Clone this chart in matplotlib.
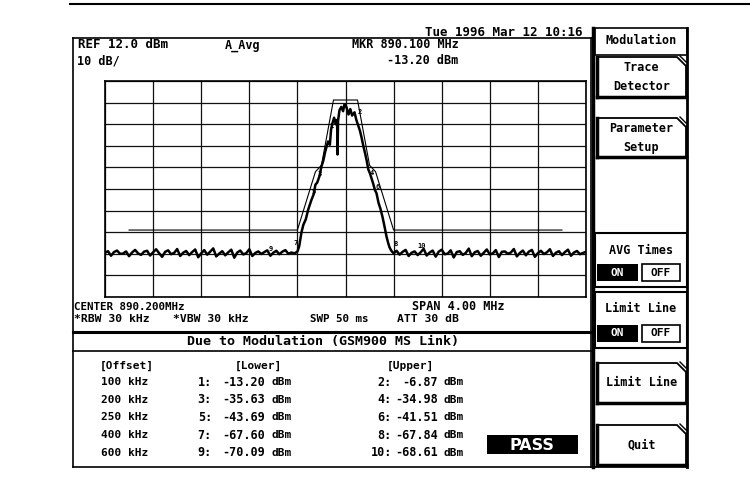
import numpy as np
import matplotlib
matplotlib.use('Agg')
import matplotlib.pyplot as plt
from matplotlib.patches import Rectangle, Polygon

plt.rcParams['font.family'] = ['DejaVu Sans Mono']
plt.rcParams['font.weight'] = 'bold'

# ---- data ----
center_mhz = 890.2
span_mhz = 4.0
ref_dbm = 12.0
db_per_div = 10.0

# signal part of the trace (offset MHz, level dBm)
sig_off = [-0.400, -0.385, -0.366, -0.350, -0.330, -0.310, -0.283, -0.265, -0.250, -0.235,
           -0.216, -0.200, -0.185, -0.170, -0.158, -0.145, -0.130, -0.120, -0.108, -0.095,
           -0.080, -0.070, -0.066, -0.062, -0.050, -0.035, -0.020, -0.010, 0.000, 0.010,
           0.025, 0.040, 0.055, 0.075, 0.090, 0.105, 0.120, 0.133, 0.150, 0.163,
           0.175, 0.190, 0.205, 0.216, 0.230, 0.245, 0.258, 0.275, 0.290, 0.308,
           0.325, 0.341, 0.355, 0.366, 0.380]
sig_db = [-67.0, -64.5, -58.0, -54.5, -52.0, -47.5, -43.0, -40.5, -36.0, -35.0,
          -32.0, -27.5, -25.0, -21.0, -18.5, -16.0, -17.5, -10.5, -7.5, -5.0,
          -8.0, -6.0, -22.0, -6.5, -1.5, 0.0, -2.0, 1.0, 1.0, -0.5,
          -3.5, -1.0, -4.0, -2.5, -6.0, -8.5, -11.0, -14.0, -18.5, -21.5,
          -24.5, -29.0, -31.0, -33.0, -35.5, -38.5, -40.0, -44.5, -47.0, -51.0,
          -55.5, -60.0, -63.0, -65.0, -66.5]

# noise floor left of the carrier (-2.0 .. -0.425 MHz, 0.025 MHz steps)
floor_left_db = [-67.5, -66.8, -68.9, -67.2, -66.5, -68.0, -67.9, -66.9, -69.1, -67.4,
                 -66.2, -67.8, -68.5, -67.0, -66.6, -68.8, -67.3, -65.9, -67.7, -69.4,
                 -67.1, -66.4, -68.2, -67.6, -65.8, -69.0, -67.5, -66.7, -68.6, -67.2,
                 -66.0, -69.6, -67.8, -66.3, -68.4, -67.0, -65.5, -69.2, -67.9, -66.8,
                 -68.7, -67.3, -66.1, -69.8, -67.4, -66.5, -68.3, -67.7, -65.9, -69.0,
                 -67.6, -66.9, -68.1, -67.2, -66.4, -68.9, -67.5, -66.6, -68.2, -67.0,
                 -66.3, -68.0, -67.4, -67.8]
# noise floor right of the carrier (0.400 .. 2.0 MHz, 0.025 MHz steps)
floor_right_db = [-67.8, -66.6, -68.4, -67.1, -66.2, -69.0, -67.5, -66.9, -68.6, -67.3,
                  -65.7, -68.8, -67.4, -66.5, -69.3, -67.0, -66.1, -68.2, -67.9, -66.4,
                  -69.7, -67.2, -66.8, -68.5, -67.6, -65.6, -69.1, -67.3, -66.7, -68.9,
                  -67.5, -66.0, -68.3, -67.8, -66.3, -69.5, -67.1, -66.9, -68.0, -67.4,
                  -65.8, -69.2, -67.6, -66.5, -68.7, -67.0, -66.2, -69.4, -67.7, -66.6,
                  -68.1, -67.3, -65.9, -69.0, -67.5, -66.8, -68.6, -67.2, -66.1, -68.9,
                  -67.4, -66.7, -68.2, -67.6, -67.1]

# limit mask
mask_off = [-1.8, -0.4, -0.25, -0.2, -0.1, 0.1, 0.2, 0.25, 0.4, 1.8]
mask_db = [-57.0, -57.0, -30.0, -27.0, 3.2, 3.2, -27.0, -30.0, -57.0, -57.0]

# measurement table
offsets = ['100 kHz', '200 kHz', '250 kHz', '400 kHz', '600 kHz']
offset_khz = [100, 200, 250, 400, 600]
lower_db = [-13.20, -35.63, -43.69, -67.60, -70.09]
upper_db = [-6.87, -34.98, -41.51, -67.84, -68.61]

softkeys = ['Trace\nDetector', 'Parameter\nSetup', 'Limit Line', 'Quit']

# ---- figure ----
fig = plt.figure(figsize=(7.5, 4.88), dpi=100)
ov = fig.add_axes([0, 0, 1, 1])
ov.set_xlim(0, 750)
ov.set_ylim(488, 0)
ov.axis('off')

fs = 8.5
k = dict(color='black', lw=1.2)

# outer frame
ov.plot([70, 750], [4, 4], color='black', lw=1.5)
ov.plot([73, 593], [38, 38], **k)
ov.plot([73, 73], [38, 467], **k)
ov.plot([73, 591], [467, 467], **k)
ov.plot([591, 591], [38, 467], **k)

# header texts
ov.text(425, 33, 'Tue 1996 Mar 12 10:16', fontsize=9, va='center')
ov.text(78, 45, 'REF 12.0 dBm', fontsize=9, va='center')
ov.text(225, 45, 'A_Avg', fontsize=8.5, va='center')
ov.text(352, 45, 'MKR 890.100 MHz', fontsize=8.5, va='center')
ov.text(77, 61, '10 dB/', fontsize=8.5, va='center')
ov.text(387, 61, '-13.20 dBm', fontsize=8.5, va='center')

ov.text(74, 307, 'CENTER 890.200MHz', fontsize=7.8, va='center')
ov.text(412, 307, 'SPAN 4.00 MHz', fontsize=8.5, va='center')
ov.text(74, 319, '*RBW 30 kHz', fontsize=8.2, va='center')
ov.text(173, 319, '*VBW 30 kHz', fontsize=8.2, va='center')
ov.text(310, 319, 'SWP 50 ms', fontsize=7.8, va='center')
ov.text(397, 319, 'ATT 30 dB', fontsize=8.2, va='center')

# table
ov.plot([73, 591], [332, 332], color='black', lw=2.2)
ov.plot([73, 591], [351, 351], **k)
ov.text(323, 342, 'Due to Modulation (GSM900 MS Link)', fontsize=9.6,
        ha='center', va='center')
ov.text(100, 366, '[Offset]', fontsize=8, va='center')
ov.text(235, 366, '[Lower]', fontsize=8, va='center')
ov.text(387, 366, '[Upper]', fontsize=8, va='center')
for i in range(len(offsets)):
    y = 382 + 17.7 * i
    ov.text(148, y, offsets[i], fontsize=8, ha='right', va='center')
    ov.text(212, y, '%d:' % (2 * i + 1), fontsize=8.5, ha='right', va='center')
    ov.text(265, y, '%.2f' % lower_db[i], fontsize=8.5, ha='right', va='center')
    ov.text(271, y, 'dBm', fontsize=8, va='center')
    ov.text(392, y, '%d:' % (2 * i + 2), fontsize=8.5, ha='right', va='center')
    ov.text(438, y, '%.2f' % upper_db[i], fontsize=8.5, ha='right', va='center')
    ov.text(444, y, 'dBm', fontsize=8, va='center')
ov.add_patch(Rectangle((487, 435), 91, 19, facecolor='black'))
ov.text(532, 445, 'PASS', color='white', fontsize=11.5, family='DejaVu Sans',
        ha='center', va='center')

# soft key panel
ov.plot([593, 593], [28, 467], color='black', lw=2.5)
ov.plot([687, 687], [28, 467], color='black', lw=2.0)
ov.plot([593, 687], [467, 467], **k)
ov.add_patch(Rectangle((595, 28), 92, 27, facecolor='white', edgecolor='black', lw=1.2))
ov.text(641, 41, 'Modulation', fontsize=fs, ha='center', va='center')


def softkey(y0, y1, label):
    x0, x1 = 597, 686
    c = 9
    ov.add_patch(Polygon([(x0, y0), (x1 - c, y0), (x1, y0 + c), (x1, y1), (x0, y1)],
                         closed=True, facecolor='white', edgecolor='black', lw=1.3))
    ov.plot([x1 - c + 3, x1], [y0 - 1, y0 + c - 4], color='black', lw=1.0)
    ov.plot([x0, x1], [y1, y1], color='black', lw=2.5)
    ov.plot([x0, x0], [y0, y1], color='black', lw=2.5)
    ov.text((x0 + x1) / 2, (y0 + y1) / 2, label, fontsize=fs, ha='center',
            va='center', linespacing=1.6)


softkey(57, 97, softkeys[0])
softkey(118, 157, softkeys[1])
softkey(363, 403, softkeys[2])
softkey(425, 465, softkeys[3])


def onoff(y0, y1, label):
    ov.add_patch(Rectangle((595, y0), 92, y1 - y0, facecolor='white',
                           edgecolor='black', lw=1.5))
    ov.text(641, y0 + 17, label, fontsize=fs, ha='center', va='center')
    yb = y1 - 23
    ov.add_patch(Rectangle((597, yb), 41, 17, facecolor='black'))
    ov.text(617, yb + 8.5, 'ON', color='white', fontsize=fs - 0.5,
            ha='center', va='center')
    ov.add_patch(Rectangle((642, yb), 38, 17, facecolor='white',
                           edgecolor='black', lw=1.2))
    ov.text(661, yb + 8.5, 'OFF', fontsize=fs - 0.5, ha='center', va='center')


onoff(233, 287, 'AVG Times')
onoff(292, 348, 'Limit Line')

# ---- spectrum display ----
gx0, gx1, gy0, gy1 = 105, 586, 81, 297
ax = fig.add_axes([gx0 / 750, 1 - gy1 / 488, (gx1 - gx0) / 750, (gy1 - gy0) / 488])
f0 = center_mhz - span_mhz / 2
f1 = center_mhz + span_mhz / 2
ax.set_xlim(f0, f1)
ax.set_ylim(ref_dbm - 10 * db_per_div, ref_dbm)
ax.set_xticks(np.linspace(f0, f1, 11))
ax.set_yticks(np.linspace(ref_dbm - 10 * db_per_div, ref_dbm, 11))
ax.tick_params(length=0, labelbottom=False, labelleft=False)
ax.grid(True, color='#111111', lw=0.9)
for s in ax.spines.values():
    s.set_linewidth(1.2)
ax.set_facecolor('none')

left_f = center_mhz - 2.0 + 0.025 * np.arange(len(floor_left_db))
right_f = center_mhz + 0.4 + 0.025 * np.arange(len(floor_right_db))
trace_f = np.concatenate([left_f, center_mhz + np.array(sig_off), right_f])
trace_db = np.concatenate([floor_left_db, sig_db, floor_right_db])
ax.plot(trace_f, trace_db, color='black', lw=1.8)
ax.plot(center_mhz + np.array(mask_off), mask_db, color='black', lw=0.8)

# marker numbers
for i in range(len(offset_khz)):
    ax.text(center_mhz - offset_khz[i] / 1000, lower_db[i] + 3, str(2 * i + 1),
            fontsize=5, ha='right', va='bottom')
    ax.text(center_mhz + offset_khz[i] / 1000, upper_db[i] + 3, str(2 * i + 2),
            fontsize=5, ha='left', va='bottom')

fig.savefig('out.png', dpi=100)
